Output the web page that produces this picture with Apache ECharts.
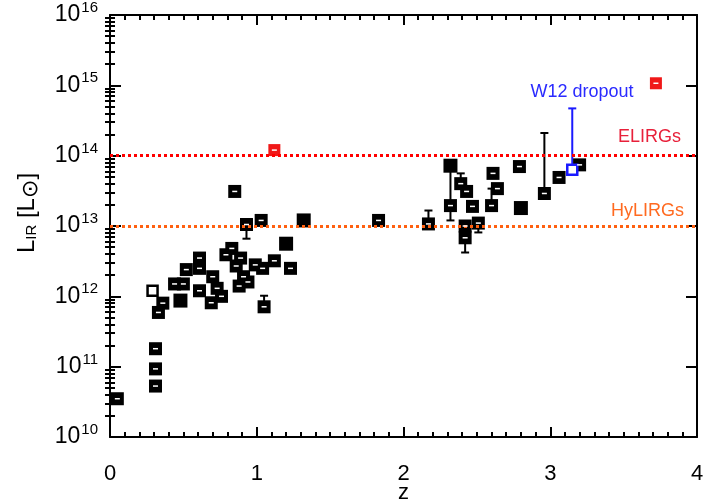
<!DOCTYPE html>
<html>
<head>
<meta charset="utf-8">
<script src="https://cdn.jsdelivr.net/npm/echarts@6/dist/echarts.min.js"></script>
<style>
  html, body { margin: 0; padding: 0; background: #fff; }
  #chart { width: 704px; height: 502px; }
</style>
</head>
<body>
<div id="chart"></div>
<script>
// Redshift (z) and infrared luminosity (L_sun) of the comparison sample.
// Squares drawn black with small white inner marks.
const markedZ = [0.05, 0.31, 0.31, 0.31, 0.33, 0.36, 0.44, 0.50, 0.52, 0.61, 0.61, 0.61, 0.70, 0.69, 0.73, 0.76,
                 0.79, 0.83, 0.85, 0.89, 0.91, 0.94, 0.93, 0.99, 1.04, 1.03, 1.12, 1.05, 1.23, 0.86, 0.88,
                 1.83, 2.17, 2.32, 2.39, 2.43, 2.42, 2.42, 2.47, 2.51, 2.60, 2.61, 2.64, 2.79, 2.96, 3.06, 3.20];
const markedL = [3.5e10, 1.8e11, 9.3e10, 5.3e10, 5.9e11, 8.0e11, 1.5e12, 1.5e12, 2.4e12, 3.5e12, 2.5e12, 1.2e12, 1.9e12, 8.1e11, 1.3e12, 1.0e12,
                 3.9e12, 4.8e12, 3.1e13, 3.5e12, 1.9e12, 1.6e12, 1.05e13, 2.8e12, 2.5e12, 1.2e13, 3.2e12, 7.1e11, 2.5e12, 2.7e12, 1.4e12,
                 1.2e13, 1.07e13, 1.95e13, 4.0e13, 3.1e13, 1.0e13, 6.8e12, 1.9e13, 1.1e13, 1.95e13, 5.6e13, 3.4e13, 7.0e13, 2.9e13, 4.9e13, 7.4e13];
// Fully filled black squares
const solidZ = [0.48, 1.20, 1.32, 2.32, 2.80];
const solidL = [8.7e11, 5.6e12, 1.2e13, 7.2e13, 1.8e13];
// Open square
const openZ = [0.29];
const openL = [1.2e12];
// Red squares
const redZ = [1.12, 3.72];
const redL = [1.2e14, 1.07e15];
// W12 dropout (blue)
const w12Z = [3.15];
const w12L = [6.3e13];
// Error bars of the black points: z, lower and upper luminosity
const errZ  = [0.93,    1.05,    2.17,    2.32,    2.39,   2.42,    2.51,    2.60,    2.96];
const errLo = [6.6e12,  7.1e11,  1.07e13, 1.2e13,  4.0e13, 4.2e12,  8.1e12,  1.95e13, 2.9e13];
const errHi = [1.05e13, 1.02e12, 1.66e13, 7.2e13,  5.6e13, 6.8e12,  1.1e13,  3.4e13,  2.1e14];
// Error bar of the W12 dropout
const w12ErrZ  = [3.15];
const w12ErrLo = [6.3e13];
const w12ErrHi = [4.7e14];
// Luminosity class thresholds
const elirgL = 1e14;
const hylirgL = 1e13;
// Axis ticks
const xTicks = [0, 1, 2, 3, 4];
const yMajor = [1e10, 1e11, 1e12, 1e13, 1e14, 1e15, 1e16];

const yMinor = [];
for (let n = 10; n < 16; n++) for (let k = 2; k <= 9; k++) yMinor.push(k * Math.pow(10, n));

const pairs = (xs, ys) => xs.map((x, i) => [x, ys[i]]);
const FONT = 'Liberation Sans, Arial, sans-serif';

const errData = errZ.map((z, i) => [z, errLo[i], errHi[i]]);
const w12ErrData = w12ErrZ.map((z, i) => [z, w12ErrLo[i], w12ErrHi[i]]);

function errRender(color) {
  return function (params, api) {
    const lo = api.coord([api.value(0), api.value(1)]);
    const hi = api.coord([api.value(0), api.value(2)]);
    const w = 4;
    const st = { stroke: color, lineWidth: 2 };
    return {
      type: 'group',
      children: [
        { type: 'line', shape: { x1: lo[0], y1: lo[1], x2: hi[0], y2: hi[1] }, style: st },
        { type: 'line', shape: { x1: lo[0] - w, y1: lo[1], x2: lo[0] + w, y2: lo[1] }, style: st },
        { type: 'line', shape: { x1: hi[0] - w, y1: hi[1], x2: hi[0] + w, y2: hi[1] }, style: st }
      ]
    };
  };
}

const axisLine = { show: true, onZero: false, lineStyle: { color: '#000', width: 2 } };

function xAxisDef(pos, labels) {
  return {
    type: 'value', position: pos, min: 0, max: 4, interval: 1,
    axisLine: axisLine,
    axisTick: { show: true, inside: true, length: 10, customValues: xTicks, lineStyle: { color: '#000', width: 2 } },
    minorTick: { show: true, splitNumber: 10, length: 5, lineStyle: { color: '#000', width: 2 } },
    axisLabel: { show: labels, customValues: xTicks, fontSize: 22, fontFamily: FONT, color: '#000', margin: 26 },
    splitLine: { show: false },
    name: labels ? 'z' : '', nameLocation: 'middle', nameGap: 45, nameMoveOverlap: false,
    nameTextStyle: { fontSize: 22, fontFamily: FONT, color: '#000' }
  };
}

function yMajorDef(pos, labels) {
  return {
    type: 'log', logBase: 10, position: pos, min: 1e10, max: 1e16,
    axisLine: axisLine,
    axisTick: { show: true, inside: true, length: 11, customValues: yMajor, lineStyle: { color: '#000', width: 2 } },
    axisLabel: {
      show: labels, customValues: yMajor, margin: 12,
      formatter: v => '{b|10}{s|' + Math.round(Math.log10(v)) + '}',
      rich: {
        b: { fontSize: 23, fontFamily: FONT, color: '#000' },
        s: { fontSize: 15, fontFamily: FONT, color: '#000', padding: [0, 0, 14, 1] }
      }
    },
    splitLine: { show: false },
    name: labels ? '{l|L}{sub|IR}{l| [L}{sun|⊙}{l|]}' : '',
    nameLocation: 'middle', nameGap: 68, nameRotate: 90, nameMoveOverlap: false,
    nameTextStyle: {
      padding: [0, 0, 0, 26],
      rich: {
        l: { fontSize: 24, fontFamily: FONT, color: '#000' },
        sub: { fontSize: 15, fontFamily: FONT, color: '#000', padding: [10, 0, 0, 0] },
        sun: { fontSize: 22, fontFamily: 'DejaVu Sans', color: '#000', padding: [8, 0, 0, 0] }
      }
    }
  };
}

function yMinorDef(pos) {
  return {
    type: 'log', logBase: 10, position: pos, min: 1e10, max: 1e16,
    axisLine: { show: false },
    axisTick: { show: true, inside: true, length: 5, customValues: yMinor, lineStyle: { color: '#000', width: 2 } },
    axisLabel: { show: false },
    splitLine: { show: false }
  };
}

const chart = echarts.init(document.getElementById('chart'), null, { renderer: 'canvas' });

chart.setOption({
  animation: false,
  backgroundColor: '#fff',
  grid: { left: 110, right: 7, top: 15, bottom: 65, outerBoundsMode: 'none', containLabel: false },
  xAxis: [xAxisDef('bottom', true), xAxisDef('top', false)],
  yAxis: [yMajorDef('left', true), yMajorDef('right', false), yMinorDef('left'), yMinorDef('right')],
  series: [
    {
      type: 'line', data: [], silent: true,
      markLine: {
        silent: true, symbol: 'none', label: { show: false },
        data: [
          { yAxis: elirgL, lineStyle: { color: '#ff0000', type: [3, 3], width: 3 } },
          { yAxis: hylirgL, lineStyle: { color: '#ff6010', type: [3, 3], width: 3 } }
        ]
      }
    },
    { type: 'custom', renderItem: errRender('#000'), data: errData, z: 3 },
    { type: 'custom', renderItem: errRender('#1a1aff'), data: w12ErrData, z: 3 },
    {
      type: 'scatter', data: pairs(markedZ, markedL), symbol: 'rect', symbolSize: 13, z: 4,
      itemStyle: { color: '#000', opacity: 1 }
    },
    {
      type: 'scatter', data: pairs(markedZ, markedL), symbol: 'rect', symbolSize: [5, 1.5], z: 5,
      itemStyle: { color: '#fff', opacity: 1 }
    },
    {
      type: 'scatter', data: pairs(solidZ, solidL), symbol: 'rect', symbolSize: 14, z: 4,
      itemStyle: { color: '#000', opacity: 1 }
    },
    {
      type: 'scatter', data: pairs(openZ, openL), symbol: 'rect', symbolSize: 10, z: 4,
      itemStyle: { color: '#fff', borderColor: '#000', borderWidth: 2.5, opacity: 1 }
    },
    {
      type: 'scatter', data: pairs(redZ, redL), symbol: 'rect', symbolSize: 12, z: 4,
      itemStyle: { color: '#f01818', opacity: 1 }
    },
    {
      type: 'scatter', data: pairs(redZ, redL), symbol: 'rect', symbolSize: [5, 1.5], z: 5,
      itemStyle: { color: '#fff', opacity: 1 }
    },
    {
      type: 'scatter', data: pairs(w12Z, w12L), symbol: 'rect', symbolSize: 10, z: 4,
      itemStyle: { color: '#fff', borderColor: '#1a1aff', borderWidth: 2.5, opacity: 1 }
    }
  ],
  graphic: [
    { type: 'text', x: 582, y: 92, z: 10,
      style: { text: 'W12 dropout', fill: '#2a2aff', font: '18px ' + FONT, align: 'center', verticalAlign: 'middle' } },
    { type: 'text', x: 681, y: 137, z: 10,
      style: { text: 'ELIRGs', fill: '#e8203a', font: '18px ' + FONT, align: 'right', verticalAlign: 'middle' } },
    { type: 'text', x: 684, y: 211, z: 10,
      style: { text: 'HyLIRGs', fill: '#ff6a20', font: '18px ' + FONT, align: 'right', verticalAlign: 'middle' } }
  ]
});
</script>
</body>
</html>
